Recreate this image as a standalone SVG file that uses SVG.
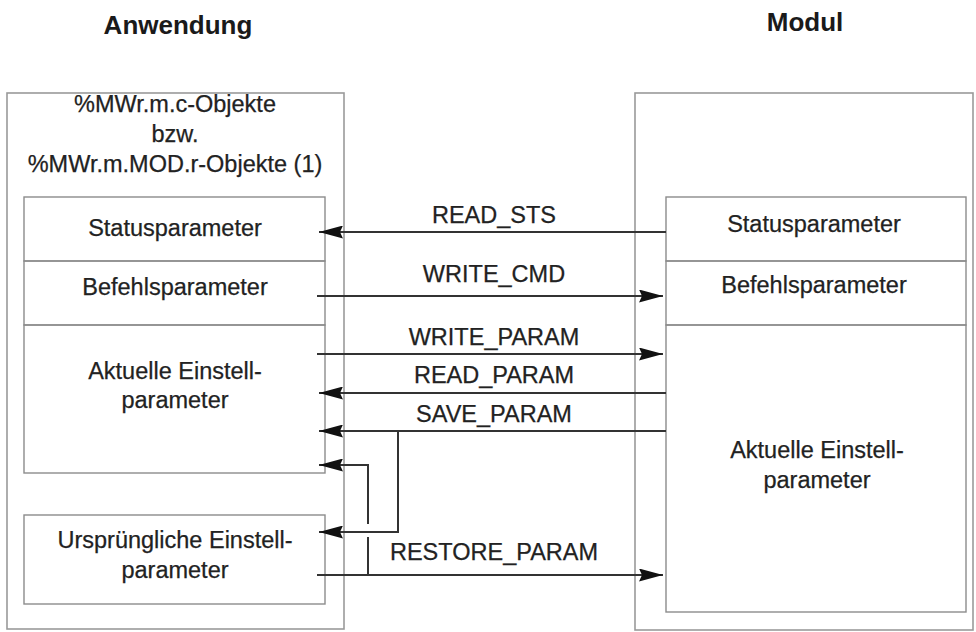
<svg xmlns="http://www.w3.org/2000/svg" width="976" height="632" viewBox="0 0 976 632">
  <style>
    .bg { fill: #ffffff; }
    .frame { fill: none; stroke: #9a9a9a; stroke-width: 1.6; }
    .cell { fill: none; stroke: #8c8c8c; stroke-width: 1.4; }
    .title { font-family: "Liberation Sans", Arial, sans-serif; font-size: 26px; font-weight: bold; fill: #1a1a1a; text-anchor: middle; }
    .txt { font-family: "Liberation Sans", Arial, sans-serif; font-size: 23.5px; fill: #222222; stroke: #222222; stroke-width: 0.25; text-anchor: middle; }
    .conn { fill: none; stroke: #333333; stroke-width: 2; }
    .head { fill: #111111; }
  </style>
  <defs>
    <marker id="arrow" viewBox="0 0 24 13" refX="24" refY="6.5" markerWidth="24" markerHeight="13" markerUnits="userSpaceOnUse" orient="auto">
      <path class="head" d="M0,0 L24,6.5 L0,13 L3,6.5 Z"/>
    </marker>
  </defs>

  <rect class="bg" x="0" y="0" width="976" height="632"/>

  <text class="title" x="178" y="34">Anwendung</text>
  <text class="title" x="805" y="31">Modul</text>

  <!-- Application side -->
  <g id="anwendung">
    <rect class="frame" x="7" y="93" width="337" height="536"/>
    <text class="txt" x="175" y="112">%MWr.m.c-Objekte</text>
    <text class="txt" x="175" y="142">bzw.</text>
    <text class="txt" x="175" y="172">%MWr.m.MOD.r-Objekte (1)</text>
  </g>
  <g id="app-status">
    <rect class="cell" x="24" y="197" width="301" height="64"/>
    <text class="txt" x="175" y="236">Statusparameter</text>
  </g>
  <g id="app-befehl">
    <rect class="cell" x="24" y="261" width="301" height="64"/>
    <text class="txt" x="175" y="295">Befehlsparameter</text>
  </g>
  <g id="app-aktuell">
    <rect class="cell" x="24" y="325" width="301" height="148"/>
    <text class="txt" x="175" y="379">Aktuelle Einstell-</text>
    <text class="txt" x="175" y="408">parameter</text>
  </g>
  <g id="app-urspruenglich">
    <rect class="cell" x="24" y="515" width="301" height="89"/>
    <text class="txt" x="175" y="548">Ursprüngliche Einstell-</text>
    <text class="txt" x="175" y="578">parameter</text>
  </g>

  <!-- Module side -->
  <g id="modul">
    <rect class="frame" x="635" y="93" width="338" height="537"/>
  </g>
  <g id="mod-status">
    <rect class="cell" x="666" y="197" width="300" height="64"/>
    <text class="txt" x="814" y="232">Statusparameter</text>
  </g>
  <g id="mod-befehl">
    <rect class="cell" x="666" y="261" width="300" height="64"/>
    <text class="txt" x="814" y="293">Befehlsparameter</text>
  </g>
  <g id="mod-aktuell">
    <rect class="cell" x="666" y="325" width="300" height="287"/>
    <text class="txt" x="817" y="458">Aktuelle Einstell-</text>
    <text class="txt" x="817" y="488">parameter</text>
  </g>

  <!-- Exchanges -->
  <g id="connectors">
    <line class="conn" x1="666" y1="232" x2="319" y2="232" marker-end="url(#arrow)"/>
    <text class="txt" x="494" y="223">READ_STS</text>

    <line class="conn" x1="317" y1="296" x2="663" y2="296" marker-end="url(#arrow)"/>
    <text class="txt" x="494" y="282">WRITE_CMD</text>

    <line class="conn" x1="317" y1="354" x2="663" y2="354" marker-end="url(#arrow)"/>
    <text class="txt" x="494" y="345">WRITE_PARAM</text>

    <line class="conn" x1="666" y1="393" x2="319" y2="393" marker-end="url(#arrow)"/>
    <text class="txt" x="494" y="383">READ_PARAM</text>

    <line class="conn" x1="666" y1="431" x2="319" y2="431" marker-end="url(#arrow)"/>
    <text class="txt" x="494" y="422">SAVE_PARAM</text>
    <polyline class="conn" points="398,431 398,532 319,532" marker-end="url(#arrow)"/>

    <line class="conn" x1="317" y1="575" x2="663" y2="575" marker-end="url(#arrow)"/>
    <text class="txt" x="494" y="560">RESTORE_PARAM</text>
    <polyline class="conn" points="368,575 368,537"/>
    <polyline class="conn" points="368,524 368,465 319,465" marker-end="url(#arrow)"/>
  </g>
</svg>
